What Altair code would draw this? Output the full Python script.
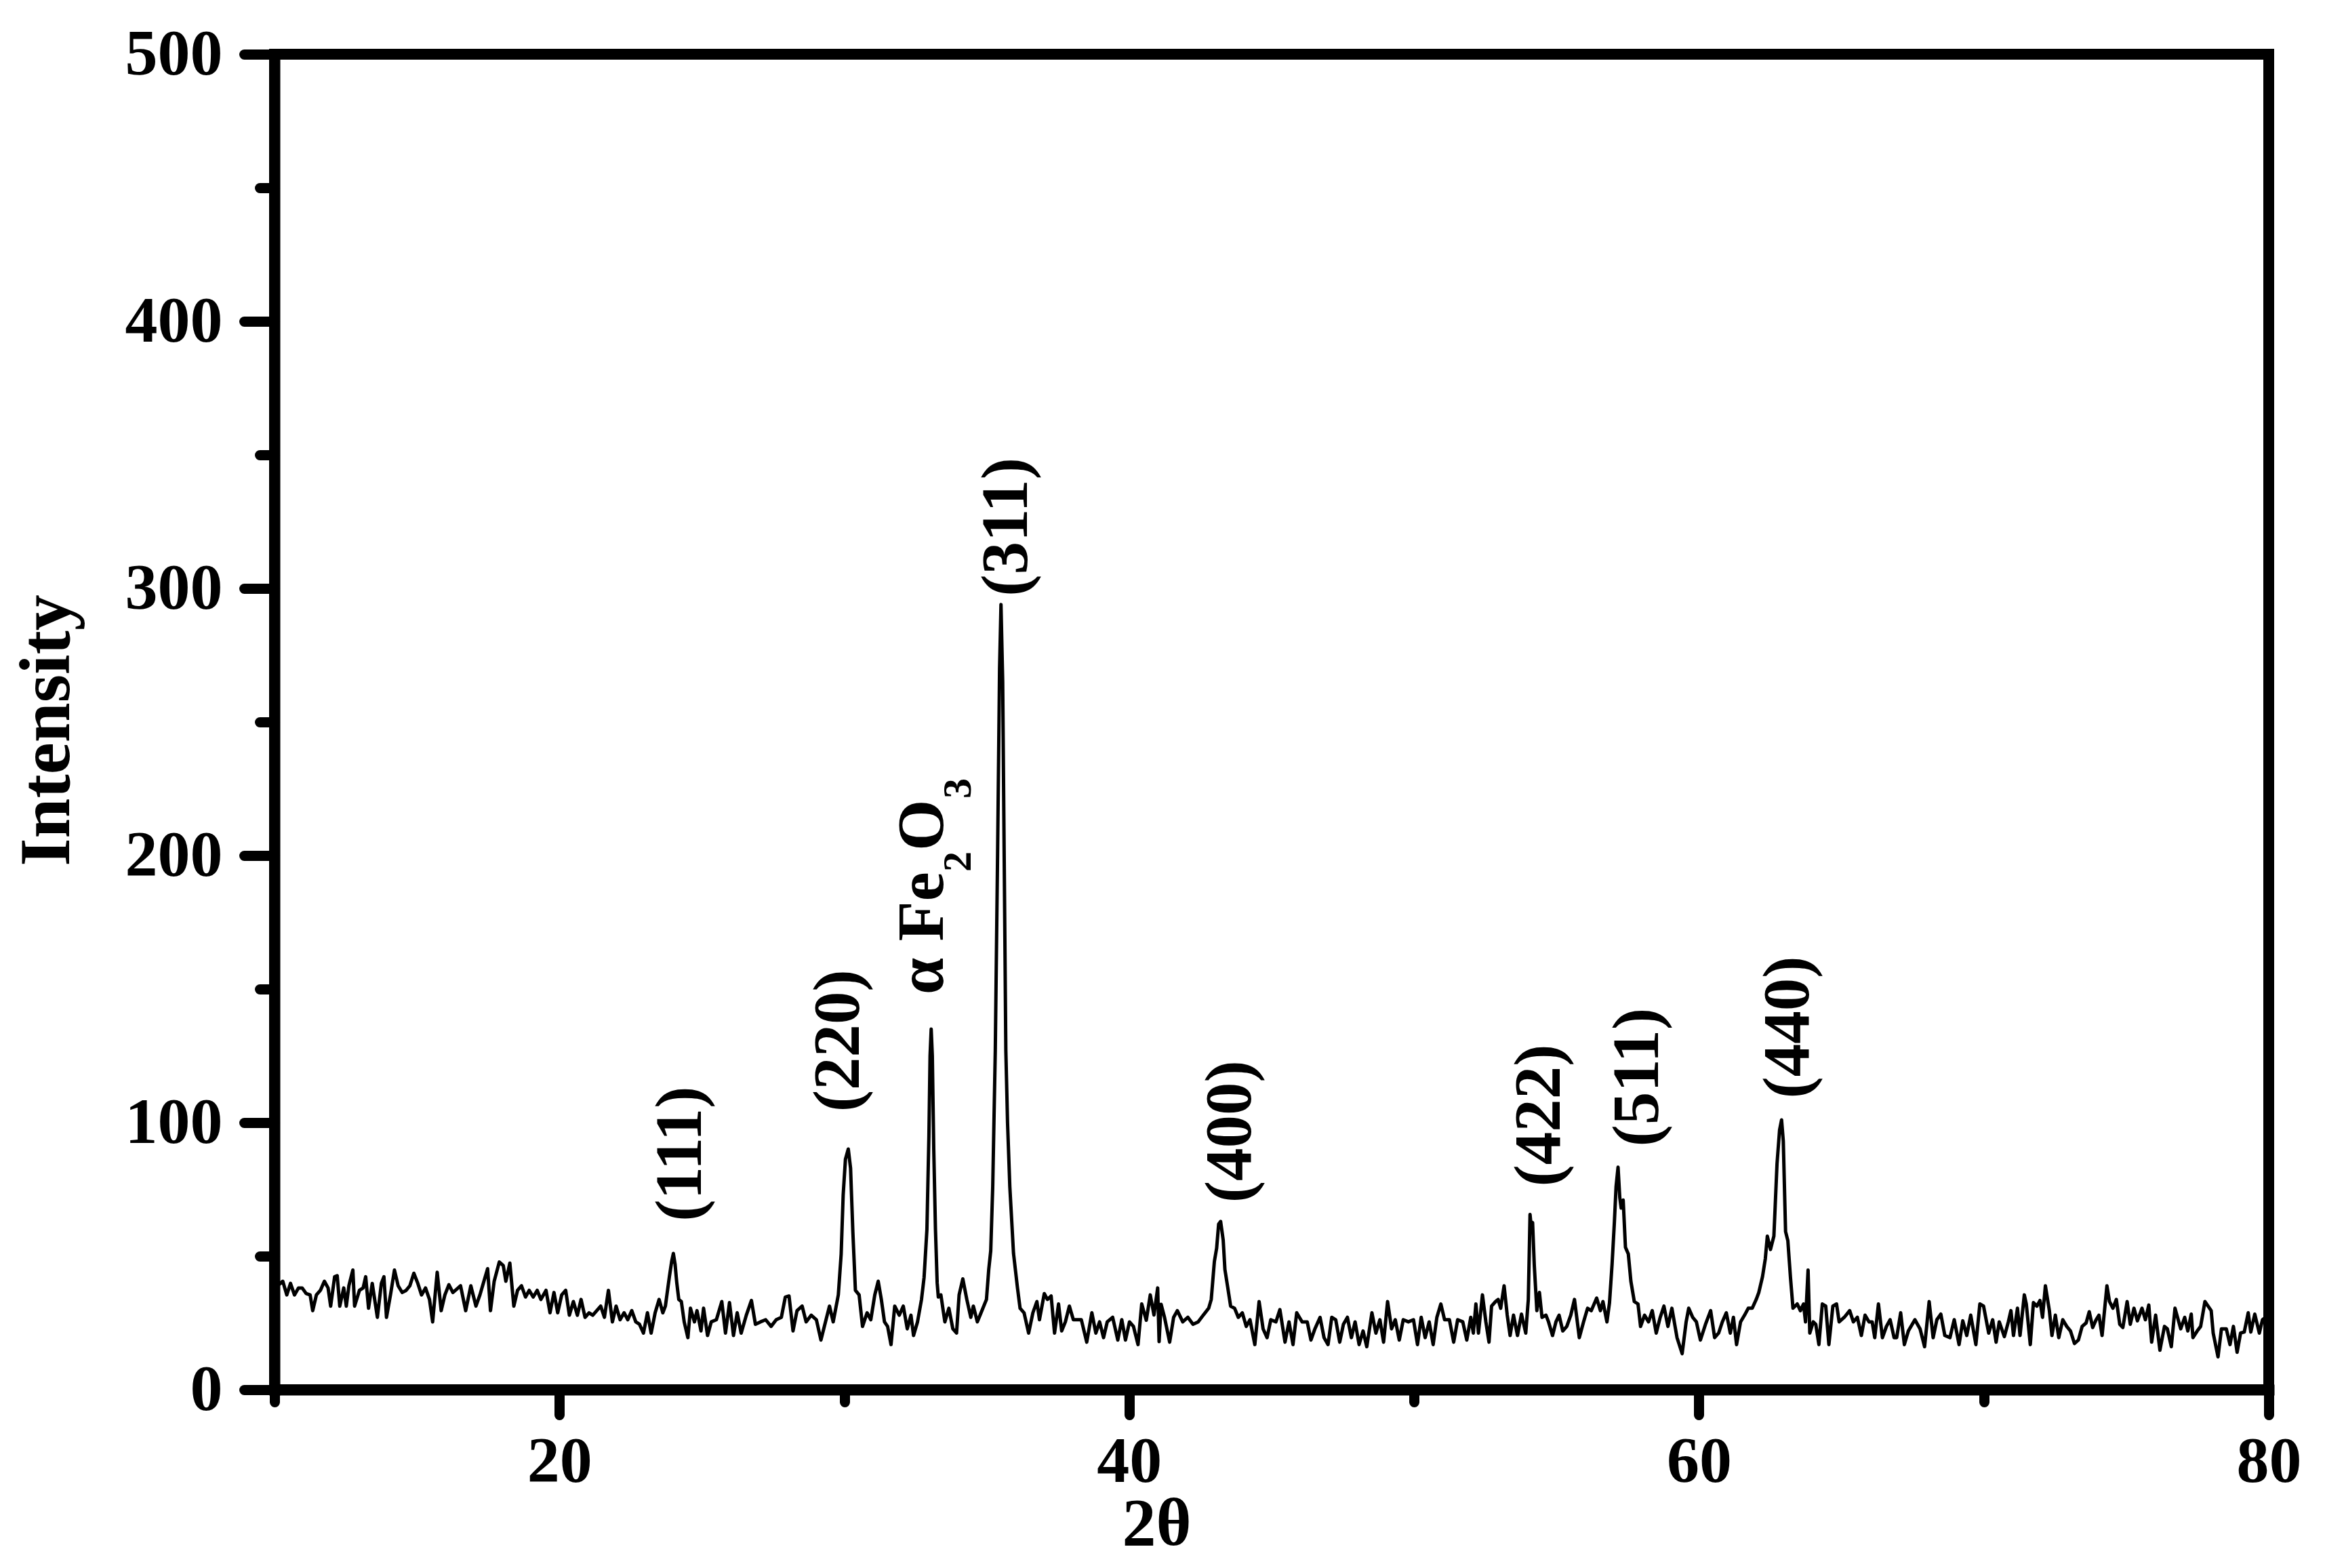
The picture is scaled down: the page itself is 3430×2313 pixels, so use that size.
import altair as alt
import pandas as pd

# ---- XRD pattern (2-theta in degrees, intensity in counts) ----
theta_a = [10.00, 10.29, 10.43, 10.56, 10.70, 10.84, 10.97, 11.11, 11.25, 11.34,
           11.47, 11.61, 11.75, 11.88, 11.97, 12.11, 12.20, 12.29, 12.43, 12.52,
           12.61, 12.75, 12.81, 12.98, 13.11, 13.20, 13.30, 13.43, 13.61, 13.75,
           13.84, 13.93, 14.07, 14.21, 14.34, 14.48, 14.62, 14.75, 14.89, 15.03,
           15.16, 15.30, 15.44, 15.55, 15.71, 15.85, 15.98, 16.12, 16.26, 16.39,
           16.53, 16.71, 16.89, 17.07, 17.21, 17.35, 17.48, 17.58, 17.71, 17.89,
           18.03, 18.12, 18.26, 18.40, 18.53, 18.67, 18.81, 18.94, 19.08, 19.22,
           19.35, 19.53, 19.67, 19.81, 19.94, 20.08, 20.22, 20.35, 20.49, 20.63,
           20.76, 20.90, 21.04, 21.17, 21.31, 21.45, 21.58, 21.72, 21.86, 21.99,
           22.13, 22.27, 22.40, 22.54, 22.68, 22.81, 22.95, 23.09, 23.22, 23.36,
           23.50, 23.63, 23.72, 23.86, 23.94, 24.00, 24.06, 24.12, 24.19, 24.28,
           24.38, 24.51]
int_a = [38.0, 40.6, 35.5, 39.8, 35.5, 38.1, 38.1, 36.0, 35.5, 29.6,
         35.5, 37.2, 40.6, 38.1, 31.3, 42.3, 42.7, 31.3, 38.1, 31.3,
         38.9, 44.8, 31.3, 37.2, 38.1, 42.3, 30.5, 39.8, 27.1, 39.8,
         42.3, 27.1, 35.5, 44.8, 38.9, 36.4, 37.2, 38.9, 43.6, 39.8,
         35.5, 38.1, 33.8, 25.4, 44.0, 29.6, 35.5, 39.3, 36.4, 37.6,
         38.9, 29.6, 38.9, 31.3, 35.5, 40.6, 45.3, 29.6, 40.6, 47.8,
         46.5, 40.6, 47.4, 31.3, 37.2, 38.9, 34.7, 37.2, 34.7, 37.2,
         33.8, 37.2, 28.8, 36.4, 28.8, 35.5, 37.2, 27.9, 33.0, 27.9,
         33.8, 27.1, 28.8, 27.9, 29.6, 31.3, 27.1, 37.2, 25.4, 31.3,
         26.2, 28.8, 26.2, 29.6, 25.4, 24.5, 21.2, 28.8, 21.2, 28.8,
         33.8, 28.8, 31.3, 42.3, 48.0, 51.0, 47.0, 40.0, 33.8, 33.0,
         25.4, 19.5]

theta_b = [24.60, 24.74, 24.83, 24.97, 25.06, 25.20, 25.33, 25.51, 25.70, 25.83,
           25.97, 26.11, 26.24, 26.38, 26.56, 26.74, 26.88, 27.06, 27.24, 27.43,
           27.61, 27.79, 27.93, 28.06, 28.20, 28.34, 28.52, 28.66, 28.84, 29.02,
           29.18, 29.34, 29.48, 29.61, 29.79, 29.89, 29.96, 30.04, 30.14, 30.22,
           30.30, 30.39, 30.52, 30.64, 30.80, 30.93, 31.07, 31.19, 31.30, 31.41,
           31.52, 31.64, 31.77, 31.93, 32.07, 32.21, 32.34, 32.43, 32.57, 32.71,
           32.80, 32.90, 32.97, 33.01, 33.05, 33.09, 33.14, 33.20, 33.26, 33.30, 33.39, 33.53,
           33.67, 33.81, 33.94, 34.03, 34.16, 34.30, 34.44, 34.53, 34.67, 34.80,
           34.99, 35.07, 35.14, 35.21, 35.30, 35.38, 35.45, 35.50, 35.56, 35.62,
           35.67, 35.73, 35.81, 35.94, 36.08, 36.17, 36.31, 36.47, 36.62, 36.76,
           36.85, 37.02, 37.13, 37.26, 37.38, 37.52, 37.63, 37.76, 37.90, 38.04]
int_b = [30.5, 25.4, 29.6, 22.0, 30.5, 20.3, 25.4, 26.2, 33.0, 21.2,
         32.6, 20.3, 28.8, 21.2, 27.9, 33.4, 24.5, 25.4, 26.2, 23.7,
         26.2, 27.1, 34.7, 35.1, 22.0, 29.6, 31.3, 25.4, 27.9, 26.2,
         18.6, 25.4, 31.3, 25.4, 35.5, 50.8, 72.8, 86.3, 90.1, 82.9,
         59.2, 37.2, 35.5, 23.7, 28.8, 26.2, 35.5, 40.6, 33.8, 25.4,
         23.7, 16.9, 31.3, 27.9, 31.3, 22.8, 27.9, 20.3, 25.4, 33.8,
         42.0, 60.0, 95.0, 125.0, 135.0, 125.0, 90.0, 60.0, 40.0, 34.7, 35.5, 25.4,
         30.5, 22.8, 21.2, 35.5, 41.5, 33.8, 27.1, 31.3, 25.4, 28.8,
         33.8, 45.0, 52.0, 76.0, 127.0, 200.0, 270.0, 294.0, 265.0, 190.0,
         127.0, 100.0, 76.0, 51.0, 38.0, 30.5, 28.8, 21.2, 28.8, 33.0,
         26.2, 36.0, 33.8, 35.1, 21.2, 32.1, 22.0, 25.4, 31.3, 26.2]

theta_c = [38.32, 38.51, 38.69, 38.83, 38.96, 39.10, 39.23, 39.42, 39.60, 39.74,
           39.87, 40.01, 40.15, 40.31, 40.44, 40.60, 40.74, 40.87, 41.00, 41.05,
           41.12, 41.24, 41.42, 41.56, 41.69, 41.88, 42.06, 42.24, 42.42, 42.60,
           42.79, 42.88, 42.99, 43.07, 43.14, 43.21, 43.30, 43.36, 43.45, 43.56,
           43.70, 43.83, 43.97, 44.11, 44.24, 44.41, 44.56, 44.70, 44.84, 44.97,
           45.15, 45.29, 45.47, 45.61, 45.75, 45.88, 46.07, 46.25, 46.38, 46.52,
           46.70, 46.84, 46.98, 47.11, 47.25, 47.39, 47.52, 47.66, 47.80, 47.93,
           48.07, 48.21, 48.34, 48.52, 48.66, 48.80, 48.93, 49.07, 49.21, 49.34,
           49.48, 49.62, 49.80, 49.98, 50.12, 50.25, 50.39, 50.53, 50.67, 50.80,
           50.94, 51.07, 51.24, 51.39, 51.53, 51.71, 51.85, 51.99]
int_c = [26.2, 17.8, 28.8, 21.2, 25.4, 19.5, 25.4, 27.1, 18.6, 26.2,
         18.6, 25.4, 23.7, 16.9, 32.1, 26.0, 35.5, 28.0, 38.1, 18.0,
         32.0, 27.1, 17.8, 27.1, 29.6, 25.4, 27.1, 24.5, 25.4, 27.9,
         30.5, 33.8, 48.0, 53.0, 62.0, 63.0, 56.0, 45.0, 38.9, 31.3,
         30.5, 27.1, 28.8, 23.7, 26.2, 16.9, 33.0, 22.8, 19.5, 26.2,
         25.4, 30.0, 17.8, 25.4, 16.9, 28.8, 25.4, 25.4, 18.6, 22.8,
         27.1, 19.5, 16.9, 27.1, 26.2, 17.8, 24.5, 27.1, 19.5, 25.4,
         16.9, 22.0, 16.1, 28.8, 21.2, 26.2, 17.8, 33.0, 22.8, 26.2,
         18.6, 26.2, 25.4, 26.2, 16.9, 27.1, 19.5, 25.4, 16.9, 27.1,
         32.1, 26.2, 26.2, 17.8, 26.2, 25.4, 18.6, 27.1]

theta_d = [52.08, 52.17, 52.26, 52.40, 52.52, 52.63, 52.72, 52.86, 52.95, 53.04,
           53.16, 53.27, 53.37, 53.49, 53.63, 53.77, 53.92, 54.01, 54.07, 54.12,
           54.16, 54.22, 54.31, 54.40, 54.49, 54.63, 54.72, 54.86, 54.98, 55.09,
           55.22, 55.36, 55.50, 55.63, 55.80, 55.95, 56.09, 56.22, 56.41, 56.54,
           56.63, 56.77, 56.86, 56.95, 57.03, 57.09, 57.16, 57.22, 57.27, 57.34,
           57.42, 57.52, 57.61, 57.73, 57.86, 57.95, 58.09, 58.23, 58.36, 58.50,
           58.64, 58.77, 58.91, 59.05, 59.23, 59.41, 59.55, 59.64, 59.78, 59.91,
           60.05, 60.23, 60.41, 60.55, 60.69, 60.82, 60.96, 61.10, 61.21, 61.32,
           61.46, 61.60, 61.73, 61.87, 62.01, 62.10, 62.23, 62.33, 62.40, 62.51,
           62.63, 62.74, 62.83, 62.90, 62.96, 63.04, 63.12, 63.21, 63.30, 63.45,
           63.56, 63.67, 63.74, 63.83, 63.89, 64.01, 64.10, 64.21, 64.33, 64.45,
           64.56, 64.70, 64.83, 64.92, 65.10, 65.29, 65.42, 65.56, 65.70, 65.83,
           65.97]
int_d = [21.2, 32.1, 21.2, 35.5, 25.4, 17.8, 31.3, 33.0, 33.8, 30.5,
         38.9, 27.9, 20.3, 27.9, 20.3, 28.3, 21.2, 33.8, 65.6, 60.0,
         62.6, 46.5, 29.6, 36.4, 27.1, 27.9, 25.4, 20.3, 25.4, 27.9,
         22.0, 23.7, 27.9, 33.8, 19.5, 25.4, 30.5, 29.6, 34.3, 29.6,
         33.0, 25.4, 32.6, 47.0, 62.5, 76.0, 83.3, 72.0, 68.0, 71.0,
         53.3, 50.8, 40.6, 33.0, 32.1, 23.7, 27.9, 25.4, 29.6, 21.2,
         27.1, 31.3, 23.7, 30.5, 19.5, 13.5, 25.4, 30.5, 27.1, 25.4,
         18.6, 24.5, 29.6, 19.5, 21.2, 25.4, 28.8, 21.2, 27.1, 16.9,
         25.4, 27.9, 30.5, 30.5, 33.8, 36.4, 42.3, 49.1, 57.5, 52.5,
         57.5, 84.6, 97.3, 101.0, 93.1, 59.2, 55.8, 42.3, 30.5, 32.1,
         29.6, 32.1, 25.4, 44.8, 21.2, 25.4, 24.5, 16.9, 32.1, 31.3,
         16.9, 31.3, 32.1, 25.4, 27.1, 29.6, 25.4, 27.1, 20.3, 27.9,
         25.4]

theta_e = [66.08, 66.17, 66.30, 66.44, 66.58, 66.71, 66.85, 66.94, 67.08, 67.21,
           67.35, 67.58, 67.76, 67.92, 68.08, 68.22, 68.35, 68.49, 68.63, 68.81,
           68.96, 69.13, 69.26, 69.40, 69.54, 69.72, 69.86, 69.99, 70.17, 70.31,
           70.43, 70.54, 70.72, 70.86, 70.95, 71.04, 71.18, 71.27, 71.42, 71.49,
           71.63, 71.74, 71.86, 71.97, 72.06, 72.16, 72.30, 72.39, 72.51, 72.63,
           72.77, 72.91, 73.04, 73.18, 73.32, 73.45, 73.59, 73.70, 73.82, 73.94,
           74.04, 74.15, 74.32, 74.41, 74.53, 74.65, 74.77, 74.88, 75.03, 75.14,
           75.27, 75.39, 75.55, 75.67, 75.79, 75.89, 76.03, 76.18, 76.34, 76.44,
           76.58, 76.71, 76.91, 77.05, 77.16, 77.28, 77.34, 77.49, 77.61, 77.76,
           77.87, 77.98, 78.05, 78.22, 78.34, 78.51, 78.64, 78.76, 78.89, 79.01,
           79.14, 79.28, 79.37, 79.51, 79.67, 79.78, 80.00]
int_e = [25.4, 19.5, 32.1, 19.5, 23.7, 26.2, 19.5, 19.5, 28.8, 16.9,
         22.0, 26.2, 22.8, 16.1, 33.0, 19.5, 26.2, 28.3, 20.3, 19.5,
         26.2, 16.9, 25.8, 20.3, 27.9, 16.9, 32.1, 31.3, 21.2, 26.2,
         17.8, 25.4, 19.9, 25.4, 29.6, 20.3, 30.5, 20.3, 35.5, 32.1,
         16.9, 32.6, 31.3, 33.4, 27.1, 38.9, 29.6, 20.3, 27.9, 19.5,
         26.2, 23.7, 22.0, 17.3, 18.6, 23.7, 25.0, 29.2, 23.3, 26.2,
         27.9, 20.3, 38.9, 33.0, 30.5, 33.8, 24.5, 23.3, 33.0, 24.5,
         30.5, 25.8, 30.5, 26.2, 31.7, 17.8, 27.9, 14.8, 23.7, 22.8,
         16.1, 30.5, 22.8, 27.1, 22.0, 28.3, 19.5, 22.0, 23.7, 33.0,
         31.3, 29.6, 21.2, 12.3, 22.8, 22.8, 16.9, 23.7, 14.0, 21.2,
         21.6, 28.8, 21.6, 28.3, 21.2, 26.2, 28.0]

# ---- peak annotations (text starts at the given point and runs upward) ----
peak_labels = ["(111)", "(220)", "(311)", "(400)", "(422)", "(511)", "(440)"]
label_theta = [24.28, 29.82, 35.72, 43.57, 54.42, 57.87, 63.15]
label_intensity = [63, 104, 297, 70, 76, 91, 109]

hematite_theta = [32.77]
hematite_intensity = [148]

# ---- axis ticks ----
x_ticks = [10, 20, 30, 40, 50, 60, 70, 80]
y_ticks = [0, 50, 100, 150, 200, 250, 300, 350, 400, 450, 500]

two_theta = theta_a + theta_b + theta_c + theta_d + theta_e
intensity = int_a + int_b + int_c + int_d + int_e
n = min(len(two_theta), len(intensity))
xrd = pd.DataFrame({"two_theta": two_theta[:n], "intensity": intensity[:n]})
labels_df = pd.DataFrame({"label": peak_labels, "two_theta": label_theta,
                          "intensity": label_intensity})
hem_df = pd.DataFrame({"two_theta": hematite_theta, "intensity": hematite_intensity})

FONT = "Liberation Serif"
x_scale = alt.Scale(domain=[10, 80], nice=False)
y_scale = alt.Scale(domain=[0, 500], nice=False)

x_axis = alt.Axis(
    values=x_ticks,
    labelExpr="datum.value % 20 === 0 ? datum.label : ''",
    tickSize={"condition": {"test": "datum.value % 20 === 0", "value": 37}, "value": 18},
    labelPadding=22,
    labelFlush=False,
    labelOverlap=False,
    title="2θ",
    titleX=1301,
    titleY=198,
    titleBaseline="middle",
    titleAlign="center",
    titleFontSize=100,
)
y_axis = alt.Axis(
    values=y_ticks,
    labelExpr="datum.value % 100 === 0 ? datum.label : ''",
    tickSize={"condition": {"test": "datum.value % 100 === 0", "value": 45}, "value": 22},
    labelPadding=32,
    labelFlush=False,
    labelOverlap=False,
    title="Intensity",
    titleAngle=270,
    titleX=-336,
    titleY=997,
    titleBaseline="middle",
    titleAlign="center",
)

X = alt.X("two_theta:Q", scale=x_scale, axis=x_axis, title="2θ")
Y = alt.Y("intensity:Q", scale=y_scale, axis=y_axis, title="Intensity")

line = alt.Chart(xrd).mark_line(color="black", strokeWidth=5, strokeJoin="round").encode(
    x=X, y=Y,
)

text_style = dict(angle=270, align="left", baseline="middle", font=FONT,
                  fontWeight="bold", color="black")

peak_text = alt.Chart(labels_df).mark_text(fontSize=97, **text_style).encode(
    x=X, y=Y, text="label:N",
)

def hem_piece(txt, size, dx, dy):
    return alt.Chart(hem_df).mark_text(fontSize=size, dx=dx, dy=dy, **text_style).encode(
        x=X, y=Y, text=alt.value(txt),
    )

hem = [
    hem_piece("α Fe", 97, 0, 0),
    hem_piece("2", 60, 181, 52),
    hem_piece("O", 97, 212, 0),
    hem_piece("3", 60, 289, 52),
]

chart = alt.layer(line, peak_text, *hem).properties(
    width=2942,
    height=1970,
    autosize=alt.AutoSizeParams(type="none"),
    padding={"left": 397, "top": 72, "right": 70, "bottom": 255},
).configure_view(
    stroke="black", strokeWidth=16
).configure_axis(
    domainColor="black",
    domainWidth=16,
    domainCap="square",
    tickColor="black",
    tickWidth=15,
    tickCap="round",
    grid=False,
    labelFont=FONT,
    labelFontWeight="bold",
    labelFontSize=96,
    labelColor="black",
    titleFont=FONT,
    titleFontWeight="bold",
    titleFontSize=106,
    titleColor="black",
)

chart.save("out.html", embed_options={"renderer": "svg", "actions": False})
